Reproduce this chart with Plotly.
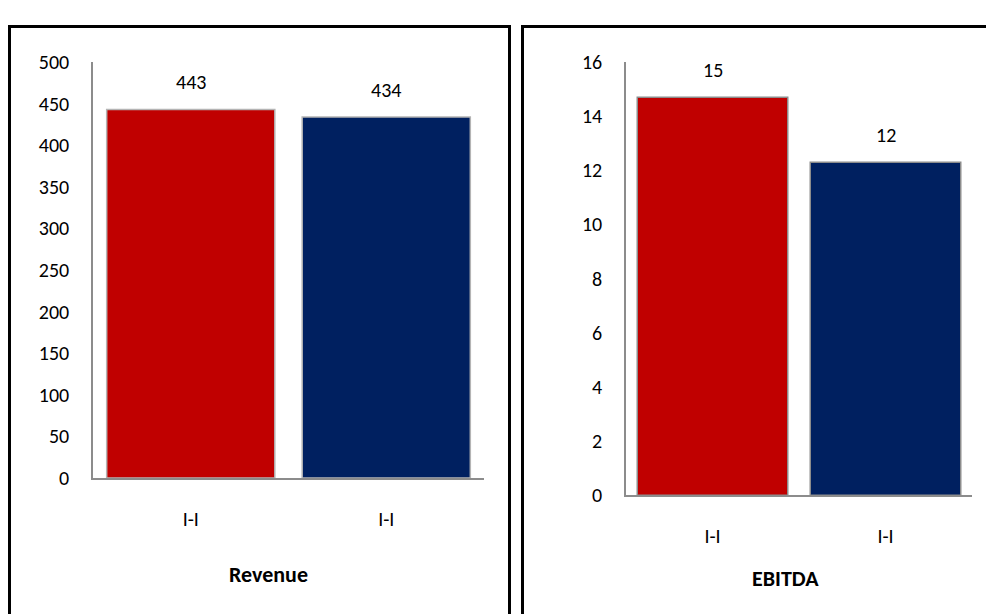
import plotly.graph_objects as go

W, H = 986, 614

categories = ["I-I", "I-I"]
revenue = [443, 434]
ebitda = [14.7, 12.3]
revenue_labels = ["443", "434"]
ebitda_labels = ["15", "12"]
bar_colors = ["#C00000", "#002060"]
panel_titles = ["Revenue", "EBITDA"]

FONT = "Carlito, Calibri, Lato, sans-serif"
idx = list(range(len(categories)))

def px(x):
    return x / W

def py(y):
    return 1 - y / H

fig = go.Figure()
fig.add_trace(go.Bar(x=idx, y=revenue, marker=dict(color=bar_colors, line=dict(color="#B4B4B4", width=1.5)),
                     width=0.86, xaxis="x", yaxis="y", hoverinfo="skip"))
fig.add_trace(go.Bar(x=idx, y=ebitda, marker=dict(color=bar_colors, line=dict(color="#8C8C8C", width=1.5)),
                     width=0.87, xaxis="x2", yaxis="y2", hoverinfo="skip"))

annotations = []
for i, v in enumerate(revenue):
    annotations.append(dict(x=i, y=v, xref="x", yref="y", text=revenue_labels[i], showarrow=False,
                            yanchor="bottom", yshift=13, font=dict(family=FONT, size=20, color="#000")))
for i, v in enumerate(ebitda):
    annotations.append(dict(x=i, y=v, xref="x2", yref="y2", text=ebitda_labels[i], showarrow=False,
                            yanchor="bottom", yshift=13, font=dict(family=FONT, size=20, color="#000")))
annotations.append(dict(x=px(268), y=py(585), xref="paper", yref="paper", text="<b>" + panel_titles[0] + "</b>",
                        showarrow=False, xanchor="center", yanchor="middle",
                        font=dict(family=FONT, size=22, color="#000")))
annotations.append(dict(x=px(785), y=py(590), xref="paper", yref="paper", text="<b>" + panel_titles[1] + "</b>",
                        showarrow=False, xanchor="center", yanchor="middle",
                        font=dict(family=FONT, size=22, color="#000")))

shapes = [
    dict(type="rect", xref="paper", yref="paper", x0=px(9.5), x1=px(509.5), y0=py(630), y1=py(15),
         line=dict(color="#000", width=3), layer="above"),
    dict(type="rect", xref="paper", yref="paper", x0=px(522.5), x1=px(1000), y0=py(630), y1=py(15),
         line=dict(color="#000", width=3), layer="above"),
]

axis_common = dict(showgrid=False, zeroline=False, showline=True, linecolor="#8C8C8C", linewidth=1.5,
                   ticks="", tickfont=dict(family=FONT, size=20, color="#000"), fixedrange=True)

fig.update_layout(
    width=W, height=H, margin=dict(l=0, r=0, t=0, b=0),
    paper_bgcolor="white", plot_bgcolor="white", showlegend=False, bargap=0.14,
    xaxis=dict(domain=[px(93), px(484)], range=[-0.5, 1.5], tickvals=idx, ticktext=categories,
               ticklabelstandoff=22, **axis_common),
    yaxis=dict(domain=[py(485), py(52)], range=[0, 500], dtick=50, ticklabelstandoff=18, **axis_common),
    xaxis2=dict(domain=[px(626), px(972)], range=[-0.5, 1.5], tickvals=idx, ticktext=categories,
                ticklabelstandoff=22, anchor="y2", **axis_common),
    yaxis2=dict(domain=[py(503), py(52)], range=[0, 16], dtick=2, ticklabelstandoff=18, anchor="x2", **axis_common),
    annotations=annotations, shapes=shapes,
)

fig.write_html("out.html")
